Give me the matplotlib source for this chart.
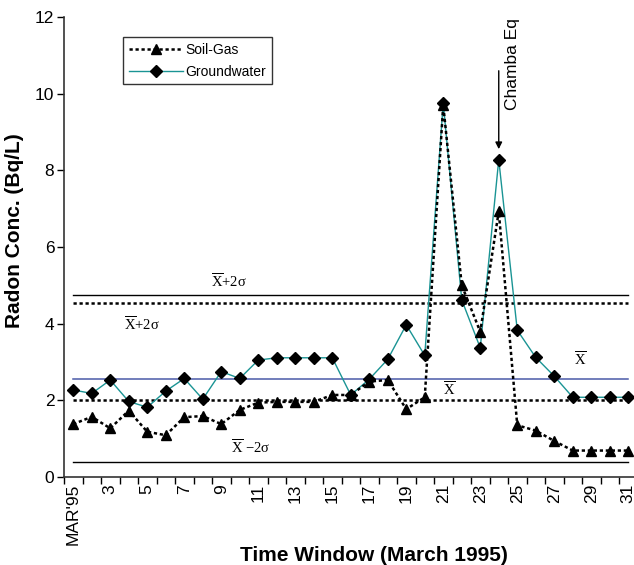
import matplotlib
matplotlib.use('Agg')
import matplotlib.pyplot as plt
import numpy as np

plt.rcParams['font.family'] = ['Liberation Sans', 'DejaVu Sans']
plt.rcParams['mathtext.fontset'] = 'custom'
plt.rcParams['mathtext.rm'] = 'Liberation Serif'
plt.rcParams['mathtext.it'] = 'Liberation Serif:italic'

# data (March 1995, days 1..31)
days = list(range(1, 32))
soil_gas = [1.38, 1.57, 1.27, 1.73, 1.18, 1.09, 1.56, 1.59, 1.38, 1.75,
            1.94, 1.96, 1.96, 1.96, 2.14, 2.14, 2.49, 2.53, 1.77, 2.08,
            9.70, 5.00, 3.79, 6.93, 1.35, 1.21, 0.94, 0.69, 0.69, 0.69, 0.69]
groundwater = [2.27, 2.18, 2.53, 1.97, 1.82, 2.24, 2.57, 2.03, 2.75, 2.57,
               3.05, 3.11, 3.11, 3.11, 3.11, 2.14, 2.55, 3.07, 3.97, 3.17,
               9.75, 4.62, 3.37, 8.28, 3.83, 3.12, 2.63, 2.08, 2.08, 2.08, 2.08]
tick_days = list(range(1, 32, 2))
tick_labels = ["MAR'95"] + [str(d) for d in tick_days[1:]]

# reference levels
gw_upper = 4.74
sg_upper = 4.55
gw_mean = 2.56
sg_mean = 2.02
lower = 0.38

teal = '#1a9494'
blue = '#4a5aa8'
dots = (0, (1.3, 1.1))

fig = plt.figure(figsize=(6.34, 5.65), dpi=100)
ax = fig.add_axes([64 / 634, 88 / 565, 573.5 / 634, 460 / 565])

# horizontal levels
ax.plot([1, 31], [gw_upper, gw_upper], color='black', lw=1.0)
ax.plot([1, 31], [sg_upper, sg_upper], color='black', lw=1.8, linestyle=dots)
ax.plot([1, 31], [gw_mean, gw_mean], color=blue, lw=1.1)
ax.plot([1, 31], [sg_mean, sg_mean], color='black', lw=1.8, linestyle=dots)
ax.plot([1, 31], [lower, lower], color='black', lw=1.0)

ax.plot(days, groundwater, color=teal, lw=1.0, marker='D', ms=6.5,
        mfc='black', mec='black', label='Groundwater', zorder=3)
ax.plot(days, soil_gas, color='black', lw=1.8, linestyle=dots, marker='^',
        ms=7.5, mfc='black', mec='black', label='Soil-Gas', zorder=4)

# level labels
lab = dict(fontsize=10.5, ha='center', va='center')
ax.text(9.4, 5.11, r'$\overline{\mathrm{X}}\mathrm{+2σ}$', **lab)
ax.text(4.7, 3.97, r'$\overline{\mathrm{X}}\mathrm{+2σ}$', **lab)
ax.text(28.4, 3.05, r'$\overline{\mathrm{X}}$', **lab)
ax.text(21.3, 2.27, r'$\overline{\mathrm{X}}$', **lab)
ax.text(10.6, 0.76, r'$\overline{\mathrm{X}}\ \mathrm{-2σ}$', **lab)

# earthquake marker
ax.annotate('', xy=(24, 8.48), xytext=(24, 10.67),
            arrowprops=dict(arrowstyle='-|>', color='black', lw=1.0,
                            mutation_scale=10))
ax.text(24.75, 11.98, 'Chamba Eq', rotation=90, fontsize=12.5,
        ha='center', va='top')

ax.set_xlim(0.5, 31.5)
ax.set_ylim(0, 12)
ax.set_yticks(np.arange(0, 13, 2))
ax.set_xticks(np.arange(0.5, 32, 1))
ax.set_xticklabels([])
ax.set_xticks(tick_days, minor=True)
ax.set_xticklabels(tick_labels, minor=True, rotation=90)
ax.tick_params(axis='x', which='major', length=5, width=1.0, direction='out')
ax.tick_params(axis='x', which='minor', length=0, labelsize=12.5, pad=5)
ax.tick_params(axis='y', length=5, width=1.0, labelsize=12.5, pad=2)
for s in ['top', 'right']:
    ax.spines[s].set_visible(False)
for s in ['left', 'bottom']:
    ax.spines[s].set_linewidth(1.2)
    ax.spines[s].set_color('#333333')

ax.set_ylabel('Radon Conc. (Bq/L)', fontsize=15, fontweight='bold')
ax.yaxis.set_label_coords(-0.07, 0.535)
ax.set_xlabel('Time Window (March 1995)', fontsize=15, fontweight='bold')
ax.xaxis.set_label_coords(0.541, -0.15)

handles, labels = ax.get_legend_handles_labels()
leg = ax.legend(handles[::-1], labels[::-1], loc='upper left',
                bbox_to_anchor=(59 / 573.5, 1 - 20 / 460), fontsize=10,
                frameon=True, fancybox=False, edgecolor='black',
                handlelength=3.9, handletextpad=0.2, borderpad=0.4,
                labelspacing=0.6, borderaxespad=0)
leg.get_frame().set_linewidth(1.0)

fig.savefig('out.png', dpi=100)
